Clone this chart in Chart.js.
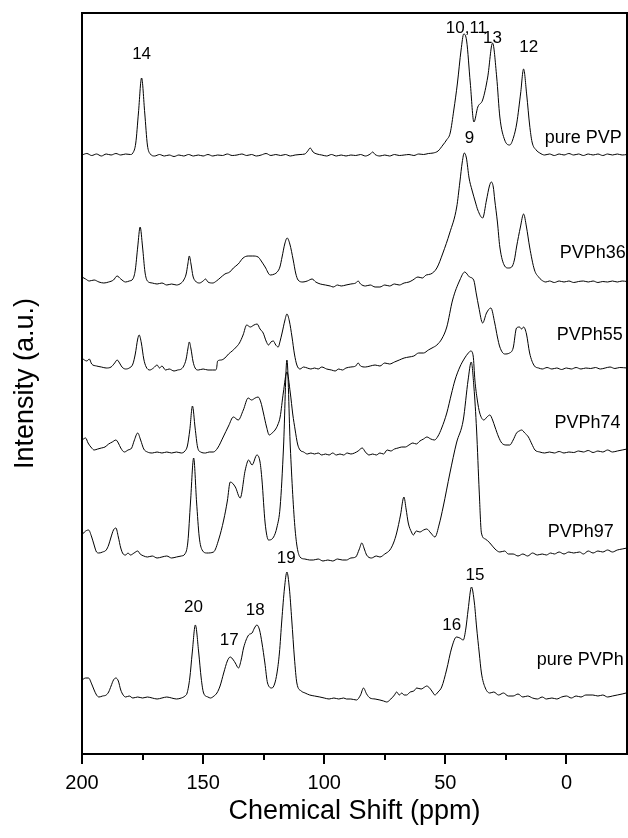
<!DOCTYPE html>
<html>
<head>
<meta charset="utf-8">
<script src="https://cdn.jsdelivr.net/npm/chart.js@4.4.1/dist/chart.umd.min.js"></script>
<style>
  body { margin: 0; background: #fff; }
  #wrap { width: 628px; height: 838px; }
</style>
</head>
<body>
<div id="wrap"><canvas id="nmr" width="628" height="838"></canvas></div>
<script>
// 13C CP/MAS NMR spectra - stacked traces, pairs are [ppm, intensity above own baseline]
const seriesNames = ['pure PVP', 'PVPh36', 'PVPh55', 'PVPh74', 'PVPh97', 'pure PVPh'];
const stackOffsets = [599, 472, 385, 302, 197, 56];

const purePVP = [[200,0],[198,1.5],[196,-0.5],[194,1],[192,-1],[190,1],[188,0],[186,1.5],[184,0],[182,1],[180,0.5],[179,2],[177.8,12],[176.7,42],[175.4,77],[174.1,42],[173,10],[171.8,1],[170,-1],[168,0.5],[166,-1],[164,0],[162,-1.5],[160,0],[158,-1],[156,0.5],[154,-1],[152,0],[150,-1],[148,0.5],[146,-1],[144,0],[142,-0.5],[140,1],[138,-0.5],[136,0],[134,1],[132,-0.5],[130,0.5],[128,-1],[126,0],[124,1.5],[122,-0.5],[120,0.5],[118,-0.5],[116,0.5],[114,-1],[112,0],[110,0.5],[108,1],[106.8,4],[105.8,7],[104.6,3],[103,1],[101,0],[99,-1],[97,0.5],[95,-1],[93,0],[91,-1],[89,0],[87,-0.5],[85,0.5],[83,-1],[81,1],[80,3],[79,0.5],[77,-1],[75,0],[73,-1],[71,0.5],[69,-0.5],[67,0],[65,0.5],[63,-0.5],[61,1],[59,0.5],[57,1.5],[55,2],[53,4],[51,10],[49.5,15],[48,22],[46.5,45],[45,72],[43.5,105],[42.4,121],[41.2,114],[39.7,72],[38.2,33],[36.6,48],[34.6,55],[32.5,78],[30.5,112],[28.8,78],[27.5,38],[25.5,15],[23.4,10],[21.8,18],[20.5,32],[18.9,62],[17.7,86],[16.4,60],[15.2,30],[14.2,13],[12.5,5],[11,2],[9,0],[7,1],[5,-0.5],[3,1],[1,0],[-1,1.5],[-3,0],[-5,1],[-7,-0.5],[-9,1],[-11,0],[-13,1],[-15,-0.5],[-17,1],[-19,0],[-21,1],[-23,0],[-25,0.5]];

const pvph36 = [[200,5],[198.5,3],[197,1],[195,2],[193,0],[191,-1],[189,0],[187,2],[185.5,6],[184,3],[182,0],[180.5,1],[179,3],[178,12],[177,35],[176,55],[175,35],[174,10],[173,1],[171,-1],[169,-2],[167,-1],[165,-3],[163,-2],[161,-3],[159,-1],[158,2],[157,8],[156.3,18],[155.7,26],[155,18],[154.2,6],[153.2,1],[151.5,-1],[150,1],[149,3],[148,0],[146,-1],[144.5,1],[143,4],[141,8],[139,10],[137.5,14],[135.5,18],[133.5,24],[131.4,26],[129.5,26],[127.3,25],[126,21],[124.4,15],[122.3,7],[120.5,8],[119.4,10],[118.3,15],[117.4,25],[116.3,38],[115.3,44],[114.2,38],[112.8,22],[111.8,9],[110.8,2],[108.8,0],[107,1],[105,3],[103.5,0],[101.6,-2],[99.5,-3],[97.5,-4],[96.3,-5],[94.5,-3],[93,-4],[91,-3],[89,-2],[87,-1],[86,1],[85,-2],[83,-4],[81,-3],[79,-5],[77,-5],[75,-3],[73,-4],[71,-2],[69,-3],[67,-1],[65,0],[63.4,2],[61.3,5],[59.5,4],[57.9,7],[56,8],[53.5,14],[51,29],[48.2,49],[45.3,75],[44,100],[43,120],[42.2,129],[41.3,124],[40.2,104],[39,92],[37.6,80],[36.6,72],[34.6,64],[33,82],[31.8,96],[31,100],[30.2,95],[29.6,82],[28.5,60],[27.5,35],[25.5,16],[24,14],[22.6,15],[21.5,22],[20.6,35],[19,55],[17.7,68],[16.5,55],[15.2,35],[13.2,12],[11.5,5],[10.3,2],[8.5,0],[7,1],[5,-0.5],[3,1],[1,0],[-1,1],[-3,-0.5],[-5,0.5],[-7,1],[-9,0],[-11,1],[-13,-0.5],[-15,0.5],[-17,0],[-19,1],[-21,0],[-23,1],[-25,0.5]];

const pvph55 = [[200,11],[199,9],[198,8],[197,10],[196,5],[194,3],[192,2],[190,1],[188,2],[186.5,6],[185.5,9],[184.5,6],[183.5,2],[182,0],[180.5,1],[179,5],[178,15],[177,30],[176.4,34],[175.5,26],[174.5,10],[173.5,2],[172,-1],[170.5,1],[169,4],[168,1],[167,3],[165.5,-1],[164,0],[162,-2],[160.5,-1],[159,0],[158,3],[157,10],[156.3,20],[155.7,27],[155,20],[154.2,8],[153.3,1],[152,-1],[150,0],[148,-1],[146,-1],[145,-1],[144.5,0],[144,8],[142.5,9],[141,11],[139.5,15],[138,18],[136.7,21],[135,26],[133.5,34],[132,44],[130.5,42],[129,44],[127.7,45],[126.5,40],[125.2,36],[124,28],[123,24],[122,27],[121,28],[120,24],[119,22],[118.2,28],[117.4,36],[116.3,48],[115.4,55],[114.4,48],[113.3,32],[112.3,15],[111.3,4],[110,0],[108.5,2],[107,1],[105.5,0],[104,1],[102.5,0],[101,2],[99,0],[97,-1],[95.5,-2],[94,0],[92.5,-1],[91,1],[89,2],[87,3],[86,6],[85,3],[83,2],[81,3],[79,4],[77,3],[75,6],[73,5],[71,7],[69,9],[67,11],[65,12],[63,13],[61,16],[59,16],[57,19],[55.5,21],[53.5,24],[51.5,30],[49.4,42],[47,69],[44,89],[42,97],[40,92],[38.3,89],[37.2,75],[36.2,62],[34.6,46],[33,56],[31.2,61],[29.6,46],[28.5,32],[27.5,22],[25.5,15],[23.5,16],[22,21],[20.6,41],[19.4,42],[18.5,40],[17.7,42],[16.5,35],[15.2,16],[13.2,3],[11.5,1],[10,0],[8,1.5],[6,0],[4,1],[2,-0.5],[0,1],[-2,0],[-4,1.5],[-6,0],[-8,1],[-10,0.5],[-12,1.5],[-14,0],[-16,1],[-18,2],[-20,0.5],[-22,1.5],[-25,1]];

const pvph74 = [[200,12],[198.5,14],[197.5,9],[196,4],[195,2],[193.5,3],[192,4],[190.5,5],[189,8],[187.5,10],[186,12],[185,9],[184,4],[182.5,0],[181,2],[179.5,4],[178.5,11],[177,19],[175.8,12],[174.5,3],[173,0],[171,-1],[169,0],[167,-1],[165,0],[163,-1],[161,0],[159,-1],[157.5,1],[156.5,6],[155.5,22],[154.4,46],[153.3,24],[152.3,5],[151,0],[149,-1],[147.5,0],[145.8,0],[144,4],[141.7,15],[139.5,26],[137.5,35],[135.5,32],[133.4,42],[131.4,54],[130,52],[128.5,54],[127.3,55],[126.2,50],[125.1,39],[123.8,25],[122.7,17],[121.5,19],[120.3,22],[119.2,27],[118.2,35],[116.9,59],[115.4,80],[114,59],[113,38],[112,22],[111,8],[110,2],[108.5,0],[107,-2],[105.5,-1],[104,-2],[102.5,-1],[101,-3],[99.5,-2],[98,-3],[96.5,-1],[95,-3],[93.5,-2],[92,-3],[90.5,-1],[89,-2],[87.5,-1],[86,1],[84.3,4],[83,0],[81.5,-3],[80,-2],[78.5,-3],[77,-1],[75.5,-2],[74,2],[72.5,1],[71,3],[69.5,4],[68,5],[66.5,5],[65,7],[63.4,9],[62,8],[60.5,11],[59,13],[57.6,15],[56,13],[54.5,12],[53,16],[51.5,24],[49.4,39],[47.5,58],[46,72],[44,85],[42,94],[40.5,99],[39.5,101],[38.5,96],[37.8,72],[36.8,52],[35.8,39],[34.1,32],[32.8,35],[31.6,37],[30.5,32],[29.5,25],[28,15],[26.7,9],[25,7],[23.4,7],[22,12],[20.6,19],[19.5,21],[18.5,22],[17.2,19],[15.7,15],[14.3,8],[13,2],[11,0],[9,-1],[7,0],[5,-1],[3,0.5],[1,-1],[-1,0],[-3,-0.5],[-5,1],[-7,0],[-9,1.5],[-11,-0.5],[-13,1],[-15,0],[-17,2],[-19,0],[-21,1],[-23,2],[-25,3]];

const pvph97 = [[200,22],[199,25],[197.3,27],[196,20],[195,12],[194,5],[193,4],[191.5,5],[190,7],[189,12],[188,20],[187,27],[186,29],[185,20],[184,9],[183,3],[182,2],[181,4],[180,2],[178.5,4],[177,6],[176,3],[174.5,1],[173,0],[171,1],[169,-1],[167,0],[165,1],[163,-1],[161,0],[159,1],[157.5,3],[156.3,15],[155.2,55],[153.9,99],[152.7,55],[151.6,20],[150.4,7],[148.4,4],[145.7,5],[143.5,18],[141.5,37],[140,56],[138.8,75],[136.7,70],[134.7,59],[132.6,87],[131.2,97],[129.8,92],[127.8,102],[126.5,95],[125.7,77],[124.4,34],[123,17],[120.9,20],[119.5,30],[118.2,50],[116.8,110],[115.4,197],[114,110],[112,27],[110,0],[108,-2],[106,-3],[104.5,-3],[102.5,-2],[100.5,-4],[98.5,-3],[96.5,-4],[94.5,-2],[92.5,-3],[90.8,-3],[89,-1],[87,0],[85.5,8],[84.5,14],[83.3,7],[82.5,2],[80.5,-1],[78.5,1],[77,0],[75,3],[72.9,7],[71.4,14],[70.1,24],[68.5,42],[67.1,60],[66.2,48],[65.3,34],[64,25],[63.2,22],[62,26],[60.5,25],[59,27],[57.7,28],[56,24],[54.3,20],[52.5,33],[50.9,50],[48.1,84],[45.4,114],[42.6,137],[40.6,177],[39.3,195],[38.2,170],[37.1,127],[36,65],[35.1,24],[33.5,18],[31.6,14],[29.5,8],[27.5,5],[25.5,6],[24,3],[22,3],[20,1],[18,3],[16,1],[14,4],[12,2],[10,3],[8.3,2],[6.5,4],[5,3],[3,5],[1,3],[-1,5],[-3,4],[-5.4,5],[-7,3],[-9,6],[-11,4],[-13,6],[-15,5],[-17,7],[-19,5],[-21,7],[-23,8],[-25,9]];

const purePVPh = [[200,18],[198.5,20],[197.3,20],[196,14],[195,8],[194,3],[193,1],[191.5,2],[190,3],[189,6],[188,12],[187,18],[186,20],[185,17],[184,8],[183,3],[182,1],[180.5,2],[179,0],[177,1],[175,0],[173,1],[171,0],[169,-1],[167,0],[165,1],[163,0],[161,-1],[159,0],[157.5,2],[156.6,5],[155.5,20],[154.5,45],[153.2,73],[151.8,45],[150.8,20],[149.8,5],[148,1],[147,0],[145.5,2],[144.3,5],[143,12],[141.5,25],[140,37],[138.8,41],[137.5,38],[136.7,35],[135.4,30],[134.3,38],[133.3,50],[131.2,63],[129.8,65],[128.8,70],[127.8,73],[126.7,68],[125.7,55],[124.5,35],[123.4,15],[121.6,10],[120.5,14],[119.5,25],[118.5,45],[117.5,78],[116.4,110],[115.4,126],[114.4,110],[113.4,78],[112.3,40],[111.3,15],[109.5,7],[107.9,5],[106,3],[104,2],[101.8,1],[100,0],[98,-1],[96,0],[94,-1],[92,0],[90.8,-1],[89,-1],[86.7,-2],[85,3],[83.8,10],[82.5,4],[81.1,0],[79,-1],[77,-2],[75.5,-3],[74.2,-4],[72.5,-1],[71,3],[70.1,6],[69,3],[68,5],[67,3],[66,3],[64.5,6],[63,7],[61.8,10],[60,9],[58.5,11],[57.7,12],[56.5,10],[55.3,6],[54.3,3],[53,6],[51.5,11],[49.5,28],[47.4,50],[45.4,61],[44,60],[42.6,58],[41.5,70],[40.6,88],[39.2,111],[38,95],[37.1,71],[36,45],[35.1,25],[33.5,10],[31.6,5],[30,6],[28,3],[26,5],[24,2],[22,2],[20,4],[18,1],[16,2],[14,0],[12,-1],[10,1],[8.3,-1],[6,0],[4,-1],[2,1],[0,2],[-2,0],[-4,2],[-6,1],[-8,3],[-10.9,3],[-13,2],[-15,3],[-17,1],[-19,2],[-21,3],[-23,4],[-24.6,5]];

const spectra = [purePVP, pvph36, pvph55, pvph74, pvph97, purePVPh];

// trace name labels: [text, ppm of left edge, intensity]
const traceLabels = [['pure PVP', 9.0, 616], ['PVPh36', 2.8, 501], ['PVPh55', 4.0, 419], ['PVPh74', 4.9, 331], ['PVPh97', 7.7, 222], ['pure PVPh', 12.3, 94]];
// peak assignment numbers: [text, ppm, intensity]
const peakLabels = [['14', 175.4, 700], ['10,11', 41.3, 726], ['13', 30.5, 716], ['12', 15.6, 707], ['9', 40, 616],
                    ['20', 154, 147], ['17', 139.2, 114], ['18', 128.5, 144], ['19', 115.7, 196], ['16', 47.4, 129], ['15', 37.8, 179]];
const minorTicks = [175, 125, 75, 25];

const FONT = '"Liberation Sans", Arial, sans-serif';

// frame box, short minor ticks and the text annotations
const annotatePlugin = {
    id: 'annotate',
    afterDraw(chart) {
        const ctx = chart.ctx;
        const area = chart.chartArea;
        const xs = chart.scales.x;
        const ys = chart.scales.y;
        ctx.save();
        ctx.strokeStyle = '#000';
        ctx.lineWidth = 2;
        ctx.strokeRect(area.left, area.top, area.right - area.left, area.bottom - area.top);
        minorTicks.forEach(v => {
            const px = Math.round(xs.getPixelForValue(v));
            ctx.beginPath();
            ctx.moveTo(px, area.bottom);
            ctx.lineTo(px, area.bottom + 6);
            ctx.stroke();
        });
        ctx.fillStyle = '#000';
        ctx.textBaseline = 'middle';
        ctx.font = '18px ' + FONT;
        ctx.textAlign = 'left';
        traceLabels.forEach(([t, ppm, v]) => {
            ctx.fillText(t, xs.getPixelForValue(ppm), ys.getPixelForValue(v));
        });
        ctx.font = '17px ' + FONT;
        ctx.textAlign = 'center';
        peakLabels.forEach(([t, ppm, v]) => {
            ctx.fillText(t, xs.getPixelForValue(ppm), ys.getPixelForValue(v));
        });
        ctx.restore();
    }
};

const ctx = document.getElementById('nmr').getContext('2d');
const chart = new Chart(ctx, {
    type: 'line',
    data: {
        datasets: spectra.map((s, i) => ({
            label: seriesNames[i],
            data: s.map(([x, h]) => ({ x: x, y: h + stackOffsets[i] })),
            borderColor: '#000',
            borderWidth: 1,
            pointRadius: 0,
            fill: false,
            cubicInterpolationMode: 'monotone'
        }))
    },
    options: {
        responsive: false,
        animation: false,
        layout: { padding: { top: 13, right: 1, left: 0, bottom: 0 } },
        plugins: {
            legend: { display: false },
            tooltip: { enabled: false }
        },
        scales: {
            x: {
                type: 'linear',
                min: -25,
                max: 200,
                reverse: true,
                border: { display: false },
                grid: {
                    drawOnChartArea: false,
                    tickLength: 10,
                    lineWidth: 2,
                    tickWidth: 2,
                    tickColor: c => (c.tick && c.tick.value % 50 === 0) ? '#000' : 'rgba(0,0,0,0)'
                },
                ticks: {
                    stepSize: 25,
                    autoSkip: false,
                    maxRotation: 0,
                    padding: 7,
                    color: '#000',
                    font: { family: FONT, size: 20 },
                    callback: v => (v % 50 === 0 ? String(v) : '')
                },
                title: {
                    display: true,
                    text: 'Chemical Shift (ppm)',
                    color: '#000',
                    font: { family: FONT, size: 27 },
                    padding: { top: 0, bottom: 10 }
                },
                afterFit: s => { s.height = 84; s.paddingLeft = 0; s.paddingRight = 0; }
            },
            y: {
                min: 0,
                max: 741,
                border: { display: false },
                grid: { display: false },
                ticks: { display: false },
                title: {
                    display: true,
                    text: 'Intensity (a.u.)',
                    color: '#000',
                    font: { family: FONT, size: 27 },
                    padding: { top: 9, bottom: 0 }
                },
                afterFit: s => { s.width = 82; s.paddingTop = 0; s.paddingBottom = 0; }
            }
        }
    },
    plugins: [annotatePlugin]
});
</script>
</body>
</html>
